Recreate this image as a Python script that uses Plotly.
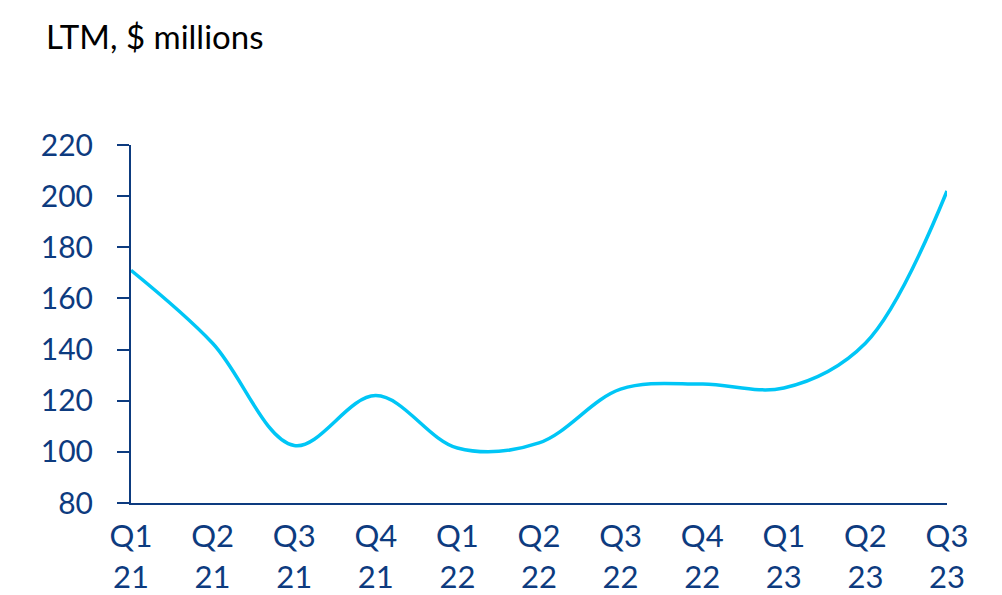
import plotly.graph_objects as go

quarters = ["Q1<br>21", "Q2<br>21", "Q3<br>21", "Q4<br>21", "Q1<br>22", "Q2<br>22",
            "Q3<br>22", "Q4<br>22", "Q1<br>23", "Q2<br>23", "Q3<br>23"]
ltm_values = [171, 142.5, 102.5, 122, 101.5, 103.5, 124.5, 126.5, 125, 142.5, 202]
y_ticks = [80, 100, 120, 140, 160, 180, 200, 220]

navy = "#0d3b7f"
font_family = "Lato, 'Open Sans', sans-serif"

L, R, T, B = 123, 63, 137, 100
plot_w = 1002 - L - R

fig = go.Figure()
fig.add_trace(go.Scatter(
    x=list(range(len(quarters))), y=ltm_values, mode="lines",
    line=dict(color="#00c6f6", width=3.5, shape="spline", smoothing=1),
    hoverinfo="skip", showlegend=False,
))

fig.update_layout(
    width=1002, height=595,
    margin=dict(l=L, r=R, t=T, b=B),
    paper_bgcolor="white", plot_bgcolor="white",
    font=dict(family=font_family, color=navy, size=30),
    xaxis=dict(
        range=[0, 10], tickmode="array", tickvals=list(range(len(quarters))),
        ticktext=quarters, showgrid=False, zeroline=False,
        showline=True, linecolor=navy, linewidth=2, ticks="",
        ticklabelstandoff=5, automargin=False,
        tickfont=dict(size=31, color=navy), fixedrange=True,
    ),
    yaxis=dict(
        range=[80, 220], tickmode="array", tickvals=y_ticks,
        showgrid=False, zeroline=False, showline=True, linecolor=navy, linewidth=2,
        ticks="outside", ticklen=12, tickwidth=2, tickcolor=navy, automargin=False,
        ticklabelstandoff=18, tickfont=dict(size=30, color=navy), fixedrange=True,
    ),
    annotations=[dict(
        text="LTM, $ millions", xref="paper", yref="paper", x=(36 - L) / plot_w, y=1,
        xanchor="left", yanchor="bottom", yshift=87, showarrow=False,
        font=dict(size=33, color="#000000", family=font_family),
    )],
)
fig.add_shape(type="line", xref="paper", yref="paper", x0=-13 / plot_w, x1=0, y0=0, y1=0,
              line=dict(color=navy, width=2))
fig.write_html("out.html")
